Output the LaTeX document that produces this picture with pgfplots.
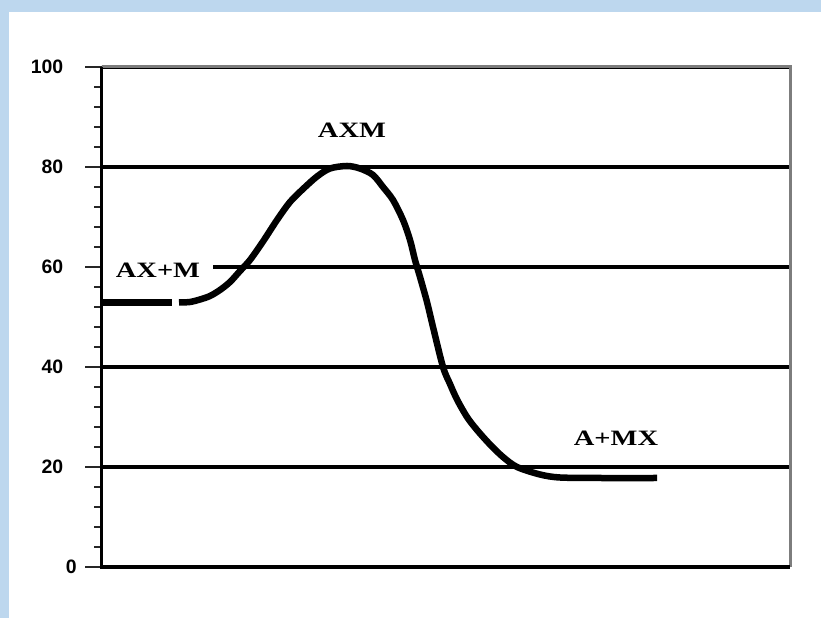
\documentclass[border=0pt]{standalone}
\usepackage{pgfplots}
\pgfplotsset{compat=1.18}
\usepackage{fontspec}
\setmainfont{Liberation Serif}
\newfontfamily\tickfont{Liberation Sans}
\newfontfamily\labfont{Liberation Serif}
\definecolor{bluebg}{RGB}{189,215,238}
\definecolor{bordergray}{RGB}{125,125,125}
\begin{document}
\begin{tikzpicture}[x=1bp,y=1bp]
\fill[bluebg] (0,0) rectangle (821,618);
\fill[white] (9,0) rectangle (821,606);
\begin{axis}[
  at={(101.5bp,51bp)}, anchor=south west,
  scale only axis, width=688.5bp, height=500bp,
  xmin=101.5, xmax=790, ymin=0, ymax=100,
  axis line style={draw=none},
  xtick=\empty,
  ytick pos=left,
  ytick={0,20,40,60,80,100},
  yticklabels={0\hspace*{-17bp},20,40,60,80,100},
  minor y tick num=4,
  tick align=outside,
  major tick length=16bp,
  minor tick length=7bp,
  every tick/.style={black!85, line width=1.6bp},
  yticklabel style={font=\tickfont\bfseries\fontsize{19.5}{19.5}\selectfont, inner sep=0pt, xshift=-22bp},
  ymajorgrids,
  major grid style={black, line width=3.3bp},
  clip=false,
]
\node[fill=white, inner sep=0pt, minimum width=84bp, minimum height=30bp, xscale=1.3,
      font=\labfont\bfseries\fontsize{22}{22}\selectfont] at (axis cs:158,59.4) {AX+M};
\addplot[black, line width=6.5bp] coordinates {(101.5,52.9) (172,52.9)};
\addplot[black, line width=6.5bp, smooth] coordinates {
(179,52.9) (190,53.0) (200,53.5) (210,54.2) (220,55.4) (230,57) (240,59.2)
(250,61.4) (263,65.1) (277,69.4) (290,73) (303,75.6) (317,78.1) (330,79.7)
(347,80.2) (360,79.7) (373,78.4) (383,76) (393,73.4) (403,69.4) (410,65.4)
(415,61.4) (420,58) (427,53) (433,48) (443,40) (450,36.6) (457,33.5)
(467,30) (477,27.4) (490,24.5) (503,22) (517,20) (540,18.5) (560,17.9)
(600,17.8) (657,17.8)};
\node[xscale=1.3, font=\labfont\bfseries\fontsize{22}{22}\selectfont] at (axis cs:352,87.4) {AXM};
\node[xscale=1.3, font=\labfont\bfseries\fontsize{22}{22}\selectfont] at (axis cs:616,25.8) {A+MX};
\draw[bordergray, line width=3bp] (rel axis cs:0,1) -- (rel axis cs:1,1) -- (rel axis cs:1,0);
\draw[black, line width=3.3bp] (rel axis cs:0,1) -- (rel axis cs:0,0) -- (rel axis cs:1,0);
\end{axis}
\end{tikzpicture}
\end{document}
